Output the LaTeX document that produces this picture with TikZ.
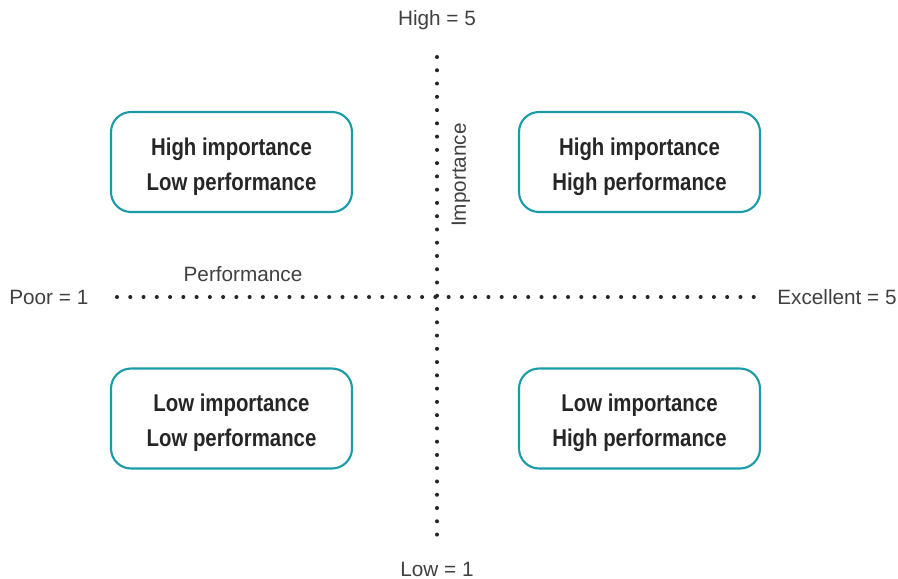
\documentclass[tikz,border=0pt]{standalone}
\usepackage{fontspec}
\setmainfont{Liberation Sans}
\newfontfamily\boxfont[FakeStretch=0.84]{Liberation Sans}
\usetikzlibrary{calc}

\definecolor{quadteal}{HTML}{1A9BA8}

\tikzset{
  quadbox/.style={draw=quadteal, line width=1.2pt, rounded corners=0.4cm,
    minimum width=4.82cm, minimum height=2cm},
  quadtext/.style={align=center, yshift=-0.09cm,
    font=\boxfont\bfseries\fontsize{13.8}{20}\selectfont, text=black!85},
  axislabel/.style={font=\fontsize{11.8}{14}\selectfont, text=black!75},
  dotline/.style={line width=2.3pt, line cap=round, dash pattern=on 0pt off 7.55pt, black!85}
}

\begin{document}
\begin{tikzpicture}[x=0.02cm, y=-0.02cm]
        \useasboundingbox (0,0) rectangle (898,578);

        \coordinate (left) at (117,297);
        \coordinate (right) at (758,297);
        \coordinate (top) at (437,57);
        \coordinate (bottom) at (437,546);

        \draw[dotline] (left) -- (right);
        \draw[dotline] (top) -- (bottom);

        \node[quadbox] (hilo) at (231.5,162) {};
        \node[quadbox] (hihi) at (639.5,162) {};
        \node[quadbox] (lolo) at (231.5,418.5) {};
        \node[quadbox] (lohi) at (639.5,418.5) {};

        \node[quadtext] (hilotext) at (hilo) {High importance\\Low performance};
        \node[quadtext] (hihitext) at (hihi) {High importance\\High performance};
        \node[quadtext] (lolotext) at (lolo) {Low importance\\Low performance};
        \node[quadtext] (lohitext) at (lohi) {Low importance\\High performance};

        \node[axislabel] (high) at (437,20) {High = 5};
        \node[axislabel] (low) at (437,569) {Low = 1};
        \node[axislabel, anchor=west, inner sep=0pt] (poor) at (9,297) {Poor = 1};
        \node[axislabel, anchor=east, inner sep=0pt] (excellent) at (897,297) {Excellent = 5};
        \node[axislabel] (perf) at (243,274) {Performance};
        \node[axislabel, rotate=90] (imp) at (461,175) {Importance};

\end{tikzpicture}
\end{document}
